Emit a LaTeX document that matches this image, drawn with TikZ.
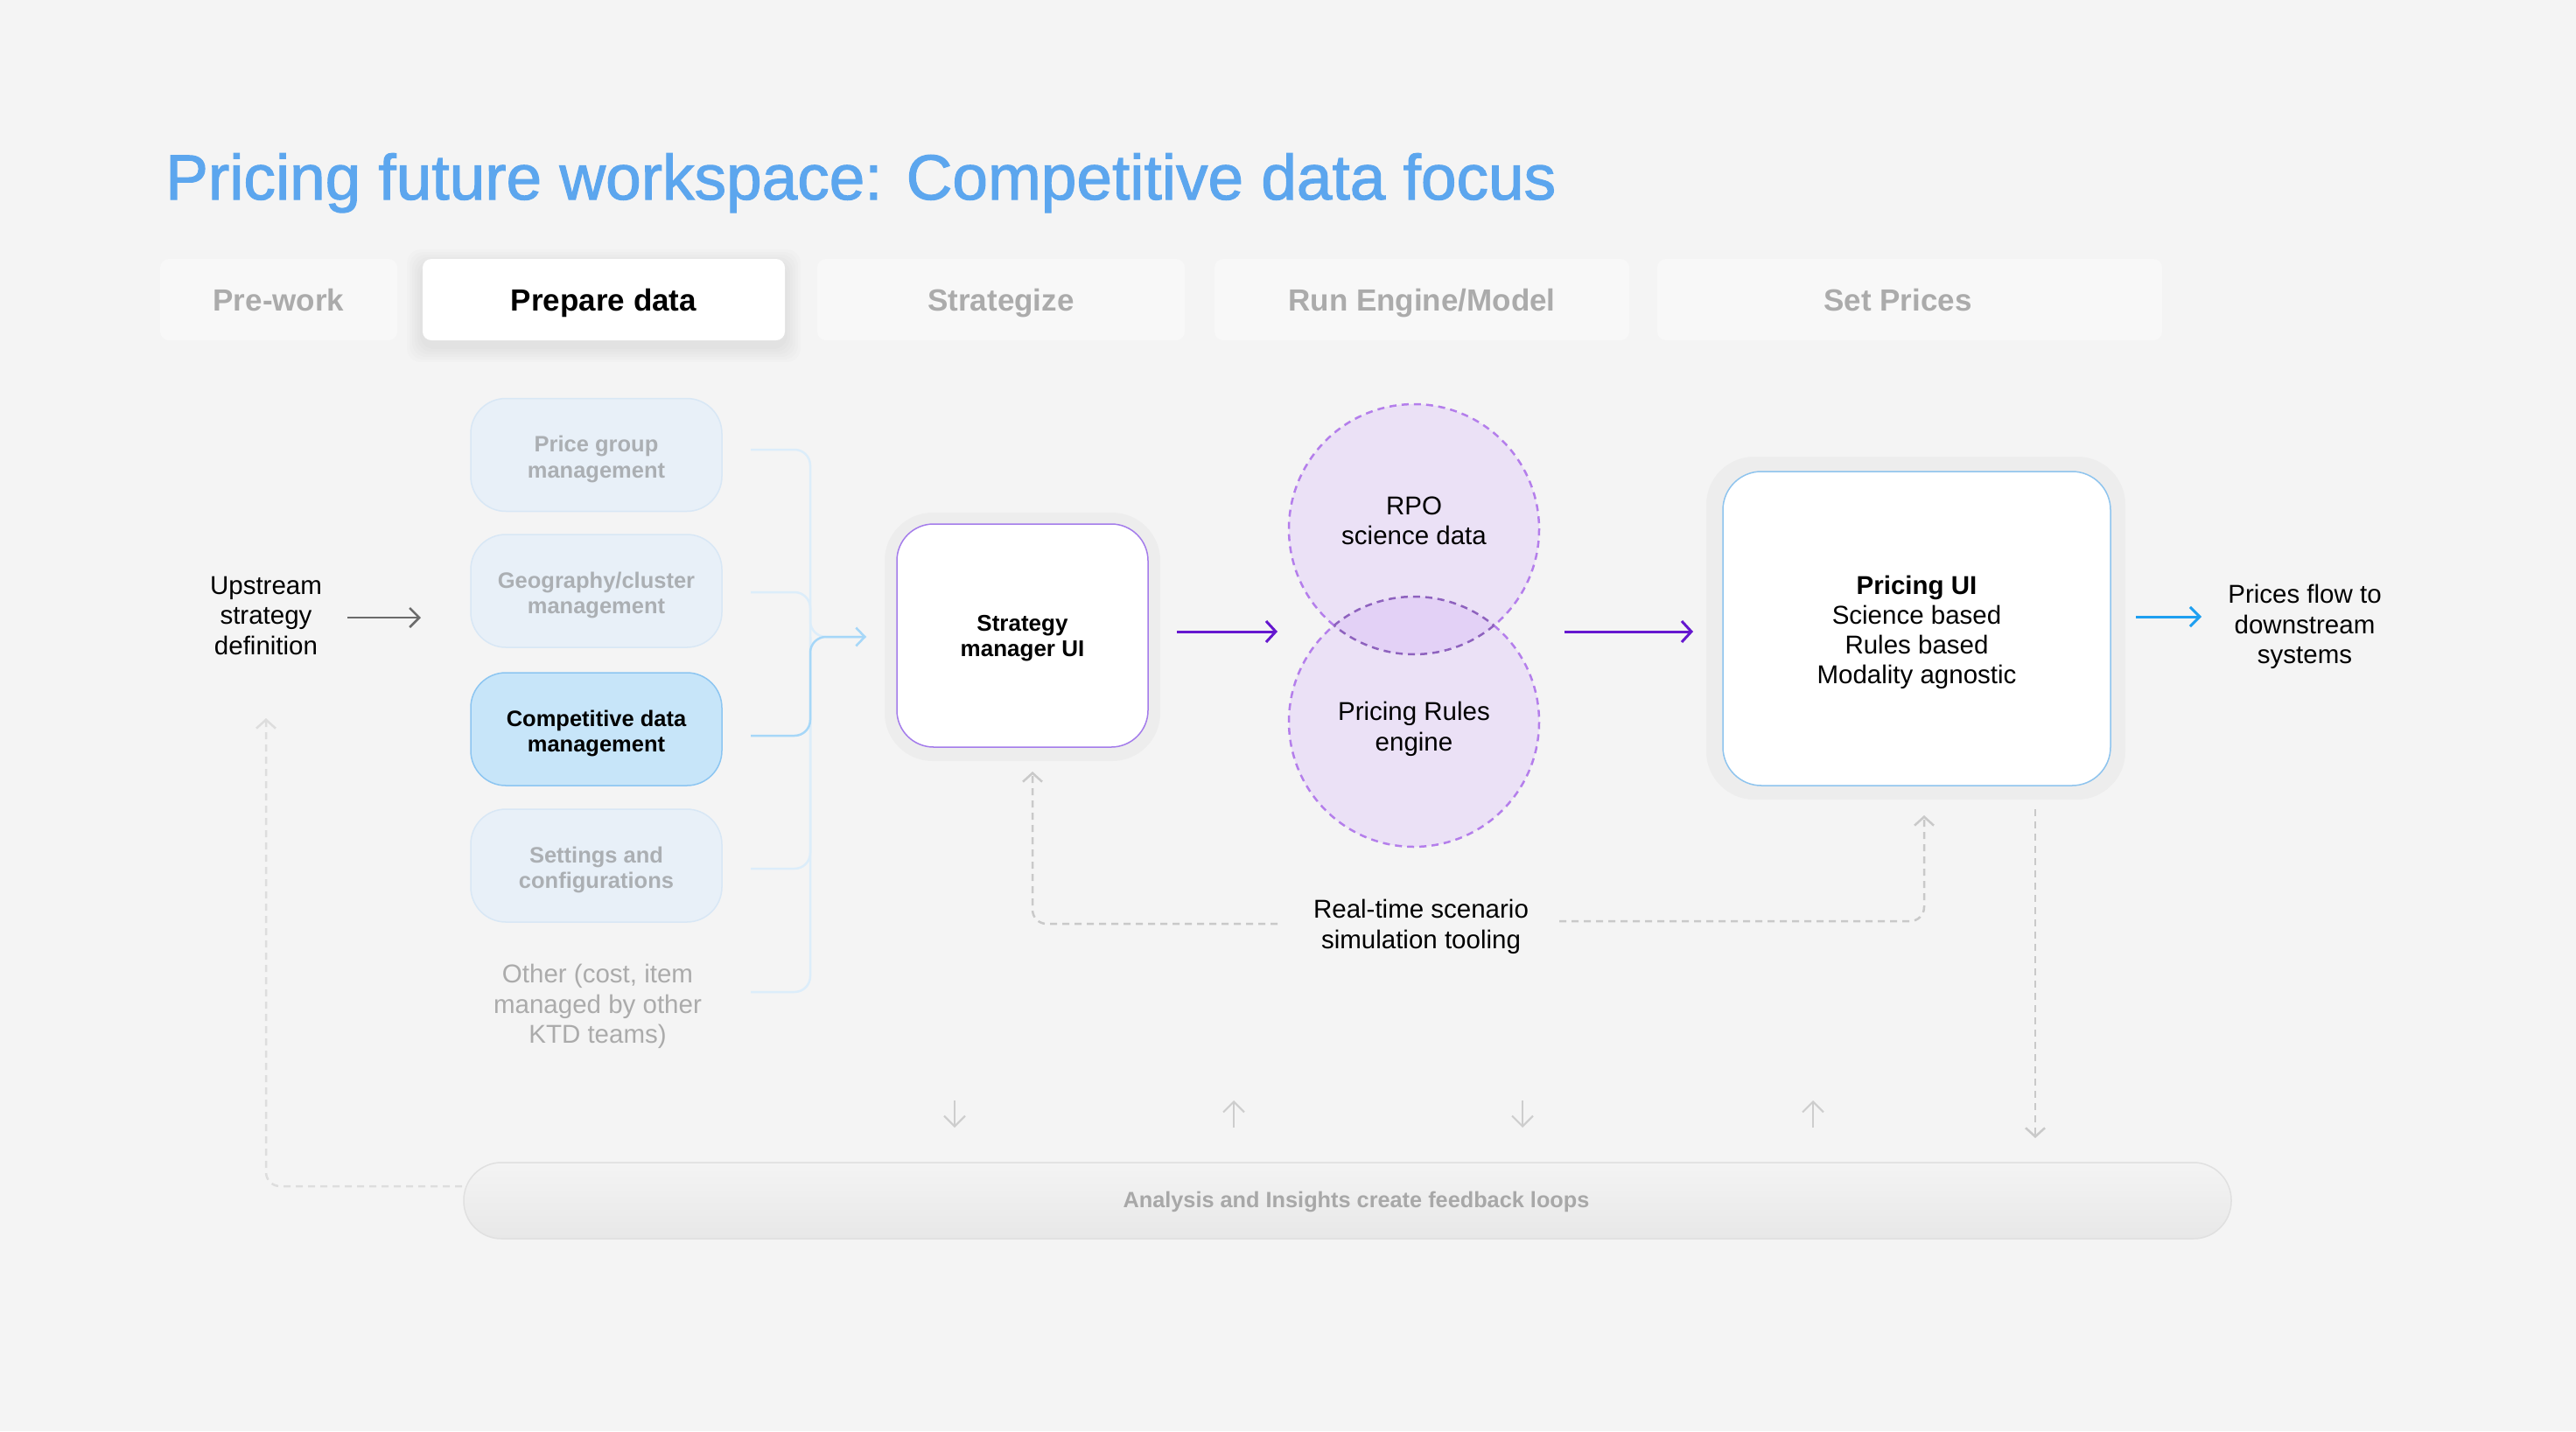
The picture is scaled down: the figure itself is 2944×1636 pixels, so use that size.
\documentclass[tikz,border=0pt]{standalone}
\usepackage{fontspec}
\setmainfont{Liberation Sans}
\newfontfamily\titlefont{Liberation Sans}[FakeBold=1.5]
\usetikzlibrary{arrows.meta}
\definecolor{bg}{HTML}{F4F4F4}
\definecolor{titleblue}{HTML}{5CA6EE}
\definecolor{tabfill}{HTML}{F8F8F8}
\definecolor{tabtext}{HTML}{ABABAB}
\definecolor{fbfill}{HTML}{E8F0F8}
\definecolor{fbborder}{HTML}{D8E7F5}
\definecolor{fbtext}{HTML}{ABAFB3}
\definecolor{cfill}{HTML}{C7E5F9}
\definecolor{cborder}{HTML}{8CC5F1}
\definecolor{faintl}{HTML}{DCEDFA}
\definecolor{strongl}{HTML}{A6D7F8}
\definecolor{halo}{HTML}{EDEDED}
\definecolor{smborder}{HTML}{A47CEB}
\definecolor{puborder}{HTML}{8EC4EE}
\definecolor{circfill}{HTML}{EBE1F6}
\definecolor{lensfill}{HTML}{E3D1F6}
\definecolor{pdashc}{HTML}{B47EEB}
\definecolor{pdashd}{HTML}{8E62BE}
\definecolor{parrow}{HTML}{6517CF}
\definecolor{barrow}{HTML}{1E9FF0}
\definecolor{grayarrow}{HTML}{6B6B6B}
\definecolor{dashgray}{HTML}{C9C9C9}
\definecolor{dashlight}{HTML}{DDDDDD}
\definecolor{bargray}{HTML}{EFEFEF}
\definecolor{barborder}{HTML}{E0E0E0}
\definecolor{bartext}{HTML}{A8A8A8}
\definecolor{othertext}{HTML}{ABABAB}
\definecolor{smallarrow}{HTML}{CDCDCD}
\begin{document}
\begin{tikzpicture}[x=1pt,y=-1pt,
  tabbox/.style={rounded corners=10, fill=tabfill, minimum height=93, inner sep=0, text height=30pt, text depth=5pt, text=tabtext, font=\bfseries\fontsize{35}{40}\selectfont},
  tabtxt/.style={inner sep=0, text height=30pt, text depth=5pt, text=tabtext, font=\bfseries\fontsize{35}{40}\selectfont},
  lbox/.style={rounded corners=40, minimum width=287, minimum height=129, inner sep=0, line width=1.5},
  faintbox/.style={lbox, fill=fbfill, draw=fbborder},
  compbox/.style={lbox, fill=cfill, draw=cborder},
  lboxtext/.style={align=center, inner sep=0, yshift=-5pt, font=\bfseries\fontsize{25.5}{29.5}\selectfont},
  halobox/.style={rounded corners=55, fill=halo, inner sep=0},
  txt/.style={align=center, inner sep=0, yshift=-3.5pt, font=\fontsize{29.5}{34.5}\selectfont},
  faintline/.style={draw=faintl, line width=2.5, rounded corners=18},
  strongline/.style={draw=strongl, line width=2.5, rounded corners=18},
  barb/.style={-{Straight Barb[length=10pt,width=22pt]}},
  parr/.style={draw=parrow, line width=3, -{Straight Barb[length=11pt,width=24pt]}},
  pdash/.style={draw=pdashc, line width=2.5, dash pattern=on 8pt off 6pt},
  pdashdk/.style={draw=pdashd, line width=2.5, dash pattern=on 8pt off 6pt},
  gdash/.style={draw=dashgray, line width=2.5, dash pattern=on 8pt off 6pt, rounded corners=16, barb},
  smallarr/.style={draw=smallarrow, line width=2, -{Straight Barb[length=12pt,width=24pt]}}
]
\fill[bg] (0,0) rectangle (2944,1636);
\useasboundingbox (0,0) rectangle (2944,1636);

% title
\node[anchor=base west, inner sep=0, text=titleblue, font=\titlefont\fontsize{73}{80}\selectfont] (title) at (189,228) {Pricing future workspace: Competitive data focus};

% tabs
\foreach \s in {3,6,...,18} {
  \fill[black, opacity=0.011, rounded corners=16] (483-\s,296-\s+7) rectangle (897+\s,389+\s+7);
}
\node[tabbox, minimum width=271] (t1) at (318.5,342.5) {Pre-work};
\node[tabbox, minimum width=414, fill=white, text=black] (t2) at (690,342.5) {Prepare data};
\node[tabbox, minimum width=420] (t3) at (1144,342.5) {Strategize};
\node[tabbox, minimum width=474] (t4) at (1625,342.5) {Run Engine/Model};
\node[tabbox, minimum width=577] (t5) at (2182.5,342.5) {};
\node[tabtxt] (t5t) at (2169,342.5) {Set Prices};

% upstream
\node[txt] (ups) at (304,700) {Upstream\\strategy\\definition};
\coordinate (upsA) at (397,706);
\coordinate (upsB) at (481,706);
\draw[draw=grayarrow, line width=2.5, -{Straight Barb[length=11pt,width=22pt]}] (upsA) -- (upsB);

% left boxes
\node[faintbox] (pg) at (681.5,520) {};
\node[lboxtext, text=fbtext] (pgt) at (pg) {Price group\\management};
\node[faintbox] (geo) at (681.5,675.5) {};
\node[lboxtext, text=fbtext] (geot) at (geo) {Geography/cluster\\management};
\node[compbox] (comp) at (681.5,833.5) {};
\node[lboxtext, text=black] (compt) at (comp) {Competitive data\\management};
\node[faintbox] (set) at (681.5,989.5) {};
\node[lboxtext, text=fbtext] (sett) at (set) {Settings and\\configurations};
\node[txt, text=othertext] (oth) at (683,1147) {Other (cost, item\\managed by other\\KTD teams)};

% bracket
\coordinate (b1) at (858,514);
\coordinate (b2) at (858,677);
\coordinate (b3) at (858,841);
\coordinate (b4) at (858,993);
\coordinate (b5) at (858,1134);
\coordinate (bj) at (926,728);
\coordinate (btip) at (990,728);
\draw[faintline] (b1) -| (926,1134) -- (b5);
\draw[faintline] (b2) -| (bj) -- (btip);
\draw[faintline] (b4) -| (bj);
\draw[strongline, -{Straight Barb[length=10pt,width=21pt]}] (b3) -| (bj) -- (btip);

% strategy manager
\node[halobox, minimum width=315, minimum height=284] (smh) at (1168.5,728) {};
\node[rounded corners=42, fill=white, draw=smborder, line width=1.5, minimum width=287, minimum height=255, inner sep=0] (sm) at (1168.5,726.5) {};
\node[align=center, inner sep=0, yshift=-3pt, font=\bfseries\fontsize{26}{29.5}\selectfont] (smt) at (sm) {Strategy\\manager UI};

% circles
\coordinate (rpoc) at (1616,605);
\coordinate (prc) at (1616,825);
\fill[circfill] (rpoc) circle (143);
\fill[circfill] (prc) circle (143);
\begin{scope}
  \clip (rpoc) circle (143);
  \fill[lensfill] (prc) circle (143);
\end{scope}
\draw[pdash] ([shift={(129.7:143)}]rpoc) arc (129.7:410.3:143);
\draw[pdash] ([shift={(-50.3:143)}]prc) arc (-50.3:230.3:143);
\draw[pdashdk] ([shift={(50.3:143)}]rpoc) arc (50.3:129.7:143);
\draw[pdashdk] ([shift={(230.3:143)}]prc) arc (230.3:309.7:143);
\node[txt] (rpo) at (1616,592) {RPO\\science data};
\node[txt] (pre) at (1616,830) {Pricing Rules\\engine};

\coordinate (a1s) at (1345,722);
\coordinate (a1e) at (1460,722);
\coordinate (a2s) at (1788,722);
\coordinate (a2e) at (1935,722);
\draw[parr] (a1s) -- (a1e);
\draw[parr] (a2s) -- (a2e);

% pricing UI
\node[halobox, minimum width=479, minimum height=392] (puh) at (2189.5,718) {};
\node[rounded corners=44, fill=white, draw=puborder, line width=1.5, minimum width=443, minimum height=359, inner sep=0] (pu) at (2190.5,718.5) {};
\node[align=center, inner sep=0, yshift=-4pt, font=\fontsize{29.5}{34}\selectfont] (put) at (pu) {\textbf{Pricing UI}\\Science based\\Rules based\\Modality agnostic};

\node[txt] (pf) at (2634,713) {Prices flow to\\downstream\\systems};
\coordinate (a3s) at (2441,705);
\coordinate (a3e) at (2516,705);
\draw[draw=barrow, line width=3, -{Straight Barb[length=11pt,width=22pt]}] (a3s) -- (a3e);

% real-time
\node[txt] (rt) at (1624,1056) {Real-time scenario\\simulation tooling};
\coordinate (rtL) at (1460,1056);
\coordinate (smIn) at (1180,882);
\coordinate (rtR) at (1782,1053);
\coordinate (puIn) at (2199,932);
\draw[gdash] (rtL) -| (smIn);
\draw[gdash] (rtR) -| (puIn);

% pricing UI down
\coordinate (puOut) at (2326,925);
\coordinate (puDown) at (2326,1301);
\draw[gdash] (puOut) -- (puDown);

% analysis bar
\node[rounded corners=43, top color=bargray!70!white, bottom color=bargray!97!black, draw=barborder, line width=1.5, minimum width=2020, minimum height=87, inner sep=0] (bar) at (1540,1372.5) {};
\node[inner sep=0, text=bartext, font=\bfseries\fontsize{25.3}{30}\selectfont] (bart) at (1550,1374) {Analysis and Insights create feedback loops};

% feedback loop left
\coordinate (fbS) at (528,1356);
\coordinate (fbE) at (304,821);
\draw[gdash, draw=dashlight] (fbS) -| (fbE);

% small arrows
\coordinate (s1a) at (1091,1258); \coordinate (s1b) at (1091,1289);
\coordinate (s2a) at (1410,1289); \coordinate (s2b) at (1410,1258);
\coordinate (s3a) at (1740,1258); \coordinate (s3b) at (1740,1289);
\coordinate (s4a) at (2072,1289); \coordinate (s4b) at (2072,1258);
\draw[smallarr] (s1a) -- (s1b);
\draw[smallarr] (s2a) -- (s2b);
\draw[smallarr] (s3a) -- (s3b);
\draw[smallarr] (s4a) -- (s4b);
\end{tikzpicture}
\end{document}
